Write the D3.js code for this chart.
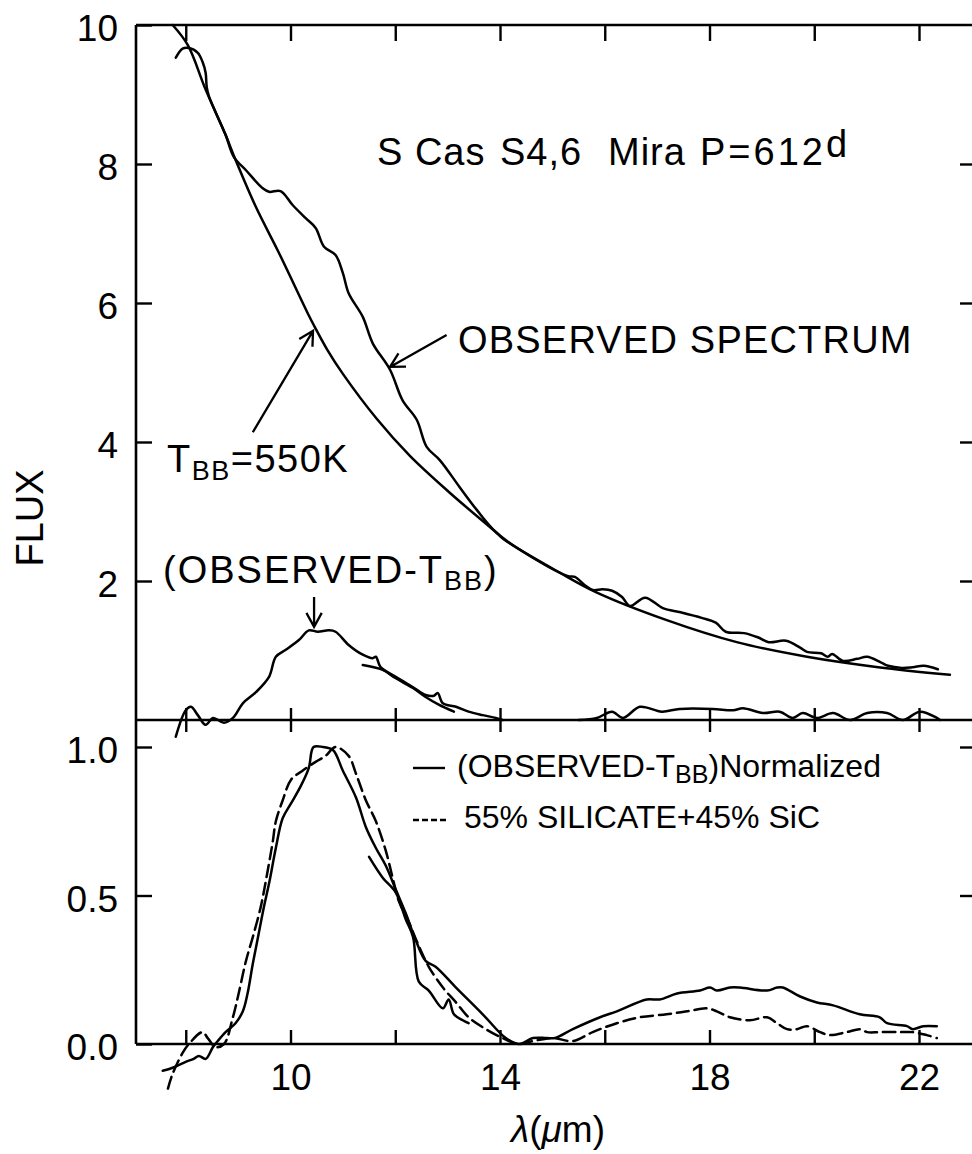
<!DOCTYPE html>
<html>
<head>
<meta charset="utf-8">
<script src="https://cdn.jsdelivr.net/npm/d3@7"></script>
<style>
  html, body { margin: 0; padding: 0; background: #fff; }
  svg { display: block; font-family: "Liberation Sans", Arial, Helvetica, sans-serif; }
  .axis text { font-size: 37px; fill: #000; }
  .axis line { stroke: #000; stroke-width: 2.4; }
  .axis .domain { display: none; }
  .curve { fill: none; stroke: #000; stroke-width: 2.5; stroke-linejoin: round; stroke-linecap: round; }
</style>
</head>
<body>
<div id="chart"></div>
<script>
// tick values
const xTicks = [8, 10, 12, 14, 16, 18, 20, 22];
const xLabels = [10, 14, 18, 22];
const fluxTicks = [2, 4, 6, 8, 10];
const normTicks = [0, 0.5, 1.0];

// upper panel, [lambda (um), flux]
const blackbody = [[7.75,10.0],[8.04,9.71],[8.38,9.07],[8.76,8.42],[8.95,8.06],[9.34,7.38],[9.78,6.72],
  [10.35,5.82],[10.46,5.66],[10.7,5.33],[11.0,4.98],[11.65,4.33],[12.28,3.80],[13.04,3.27],[13.94,2.69],[14.09,2.59],
  [15.14,2.12],[15.83,1.84],[17.17,1.44],[18.52,1.12],[19.86,0.91],[21.22,0.76],[22.59,0.65]];

const observed = [[7.81,9.53],[7.94,9.66],[8.06,9.67],[8.23,9.60],[8.32,9.47],[8.38,9.31],[8.40,9.11],[8.44,8.98],
  [8.76,8.42],[8.92,8.10],[9.15,7.91],[9.47,7.65],[9.59,7.60],[9.81,7.61],[10.04,7.41],[10.29,7.22],[10.48,7.08],
  [10.64,6.81],[10.86,6.69],[11.0,6.43],[11.11,6.14],[11.38,5.80],[11.57,5.42],[11.90,5.04],[12.14,4.60],
  [12.41,4.32],[12.60,3.93],[12.85,3.74],[13.23,3.35],[13.56,3.02],[13.94,2.69],[14.57,2.36],[15.30,2.07],
  [15.43,2.06],[15.62,1.94],[15.77,1.87],[15.96,1.88],[16.14,1.86],[16.33,1.77],[16.48,1.64],[16.77,1.76],
  [17.11,1.61],[17.45,1.55],[17.85,1.47],[18.12,1.40],[18.31,1.27],[18.66,1.25],[18.92,1.19],[19.13,1.12],
  [19.46,1.14],[19.73,1.04],[19.86,0.98],[20.13,0.96],[20.26,0.91],[20.34,0.95],[20.55,0.85],[20.82,0.88],
  [21.01,0.91],[21.27,0.83],[21.41,0.78],[21.67,0.75],[21.88,0.76],[22.09,0.78],[22.36,0.73]];

const residual = [[7.81,-0.24],[8.00,0.14],[8.10,0.19],[8.23,0.07],[8.38,-0.07],[8.52,0.03],[8.73,-0.04],
  [8.90,0.03],[9.09,0.24],[9.34,0.40],[9.59,0.62],[9.72,0.91],[9.91,1.01],[10.16,1.15],[10.35,1.29],
  [10.52,1.27],[10.73,1.29],[10.86,1.27],[11.11,1.08],[11.38,0.94],[11.57,0.89],[11.63,0.91],[11.72,0.76],
  [12.01,0.62],[12.34,0.47],[12.58,0.36],[12.74,0.35],[12.81,0.39],[12.91,0.24],[13.16,0.19],[13.40,0.12],
  [13.67,0.07],[13.92,0.03],[14.05,0.0]];

const residualOverlap = [[11.38,0.79],[11.76,0.72],[12.01,0.60],[12.34,0.46],[12.58,0.33],[12.83,0.22],[13.12,0.12]];

const residualLong = [[15.5,0.0],[15.85,0.03],[16.14,0.12],[16.35,0.03],[16.67,0.19],[17.09,0.12],[17.43,0.16],
  [18.06,0.16],[18.45,0.14],[18.64,0.17],[19.02,0.10],[19.34,0.12],[19.59,0.03],[19.78,0.10],[20.05,0.03],
  [20.36,0.10],[20.68,0.0],[21.01,0.10],[21.39,0.10],[21.69,0.0],[22.02,0.12],[22.34,0.03],[22.40,0.0]];

// lower panel, [lambda (um), normalized]
const normalized = [[7.56,-0.09],[7.75,-0.08],[8.0,-0.06],[8.15,-0.05],[8.25,-0.04],[8.38,-0.05],[8.52,-0.01],
  [8.61,0.01],[8.76,0.04],[8.95,0.07],[9.09,0.11],[9.18,0.17],[9.28,0.27],[9.38,0.36],[9.49,0.46],[9.59,0.54],
  [9.72,0.66],[9.85,0.76],[10.01,0.81],[10.20,0.87],[10.35,0.93],[10.44,1.0],[10.62,1.0],[10.81,0.99],
  [11.0,0.92],[11.25,0.83],[11.44,0.73],[11.63,0.66],[11.82,0.60],[12.01,0.52],[12.20,0.44],[12.39,0.35],
  [12.58,0.28],[12.77,0.26],[13.16,0.19],[13.67,0.10],[14.11,0.02],[14.36,0.0],[14.63,0.02],[14.89,0.02],
  [15.05,0.02],[15.39,0.05],[15.91,0.09],[16.23,0.11],[16.80,0.15],[17.05,0.15],[17.38,0.17],[17.82,0.18],
  [18.01,0.19],[18.14,0.18],[18.39,0.19],[18.58,0.19],[19.10,0.18],[19.29,0.19],[19.40,0.19],[19.73,0.16],
  [20.05,0.14],[20.36,0.13],[20.87,0.10],[21.25,0.09],[21.39,0.07],[21.77,0.06],[21.88,0.05],[22.08,0.06],
  [22.34,0.06]];

const normalizedOverlap = [[11.50,0.63],[11.76,0.56],[12.01,0.51],[12.20,0.42],[12.34,0.36],[12.45,0.21],
  [12.64,0.18],[12.91,0.12],[13.02,0.15],[13.12,0.10],[13.29,0.08],[13.40,0.07]];

const model = [[7.66,-0.15],[7.75,-0.10],[7.94,-0.03],[8.06,0.0],[8.32,0.04],[8.42,0.02],[8.57,-0.01],[8.73,0.0],
  [8.90,0.09],[9.01,0.17],[9.15,0.28],[9.28,0.36],[9.43,0.46],[9.53,0.55],[9.66,0.68],[9.72,0.75],[9.85,0.82],
  [10.01,0.89],[10.23,0.92],[10.48,0.95],[10.67,0.97],[10.86,1.0],[11.11,0.97],[11.25,0.91],[11.44,0.82],
  [11.63,0.75],[11.82,0.65],[11.95,0.56],[12.07,0.48],[12.26,0.41],[12.45,0.33],[12.64,0.26],[12.91,0.19],
  [13.16,0.14],[13.40,0.09],[13.73,0.05],[14.05,0.02],[14.36,0.0],[14.63,0.01],[15.01,0.02],[15.39,0.01],
  [15.77,0.04],[16.23,0.07],[16.67,0.09],[17.18,0.10],[17.57,0.11],[17.95,0.12],[18.14,0.11],[18.39,0.09],
  [18.77,0.08],[19.10,0.09],[19.29,0.07],[19.48,0.05],[19.67,0.05],[19.86,0.06],[20.11,0.04],[20.30,0.03],
  [20.62,0.04],[20.87,0.05],[21.01,0.04],[21.25,0.04],[21.64,0.04],[21.88,0.04],[22.15,0.03],[22.34,0.02]];

const W = 972, H = 1154;

const svg = d3.select("#chart").append("svg")
  .attr("width", W).attr("height", H)
  .attr("viewBox", `0 0 ${W} ${H}`);

const x = d3.scaleLinear().domain([7.05, 23.05]).range([136, 974]);
const yTop = d3.scaleLinear().domain([0, 10]).range([720, 25]);
const yBot = d3.scaleLinear().domain([0, 1]).range([1044, 747]);

const [x0, x1] = x.range();

// frame
const frame = [
  [x0, yTop(10), x0, yBot(0)],
  [x0, yTop(10), x1, yTop(10)],
  [x0, yTop(0), x1, yTop(0)],
  [x0, yBot(0), x1, yBot(0)],
  [x1, yTop(10), x1, yBot(0)]
];
svg.append("g").selectAll("line").data(frame).enter().append("line")
  .attr("x1", d => d[0]).attr("y1", d => d[1]).attr("x2", d => d[2]).attr("y2", d => d[3])
  .attr("stroke", "#000").attr("stroke-width", 2.6);

// left axes
svg.append("g").attr("class", "axis")
  .attr("transform", `translate(${x0},0)`)
  .call(d3.axisLeft(yTop).tickValues(fluxTicks).tickSize(-16).tickPadding(18).tickFormat(d3.format("d")))
  .selectAll("text").attr("dy", "0.42em");
svg.append("g").attr("class", "axis")
  .attr("transform", `translate(${x0},0)`)
  .call(d3.axisLeft(yBot).tickValues(normTicks).tickSize(-16).tickPadding(18).tickFormat(d3.format(".1f")))
  .selectAll("text").attr("dy", "0.42em");

// right axes (inner ticks only)
svg.append("g").attr("class", "axis")
  .attr("transform", `translate(${x1},0)`)
  .call(d3.axisLeft(yTop).tickValues(fluxTicks.slice(0, 4)).tickSize(14).tickFormat(""));
svg.append("g").attr("class", "axis")
  .attr("transform", `translate(${x1},0)`)
  .call(d3.axisLeft(yBot).tickValues([0.5, 1.0]).tickSize(14).tickFormat(""));

// top axis
svg.append("g").attr("class", "axis")
  .attr("transform", `translate(0,${yTop(10)})`)
  .call(d3.axisTop(x).tickValues(xTicks).tickSize(-16).tickFormat(""));

// middle separator, ticks crossing both ways
svg.append("g").attr("class", "axis")
  .attr("transform", `translate(0,${yTop(0)})`)
  .call(d3.axisBottom(x).tickValues(xTicks).tickSize(12).tickFormat(""));
svg.append("g").attr("class", "axis")
  .attr("transform", `translate(0,${yTop(0)})`)
  .call(d3.axisTop(x).tickValues(xTicks).tickSize(12).tickFormat(""));

// bottom axis
svg.append("g").attr("class", "axis")
  .attr("transform", `translate(0,${yBot(0)})`)
  .call(d3.axisBottom(x).tickValues(xTicks).tickSize(-14).tickPadding(20)
    .tickFormat(d => xLabels.includes(d) ? d : ""));

// curves
const lineTop = d3.line().x(d => x(d[0])).y(d => yTop(d[1])).curve(d3.curveCatmullRom.alpha(0.5));
const lineBot = d3.line().x(d => x(d[0])).y(d => yBot(d[1])).curve(d3.curveCatmullRom.alpha(0.5));

[blackbody, observed, residual, residualOverlap, residualLong].forEach(s => {
  svg.append("path").attr("class", "curve").attr("d", lineTop(s));
});
[normalized, normalizedOverlap].forEach(s => {
  svg.append("path").attr("class", "curve").attr("d", lineBot(s));
});
svg.append("path").attr("class", "curve").attr("d", lineBot(model))
  .attr("stroke-dasharray", "12,6").attr("stroke-linecap", "butt");

// arrows (annotation anchors in data units)
function arrow(tail, tip, yScale) {
  const tx = x(tip[0]), ty = yScale(tip[1]);
  const sx = x(tail[0]), sy = yScale(tail[1]);
  const a = Math.atan2(ty - sy, tx - sx), L = 16, sp = 0.5;
  const p = d3.path();
  p.moveTo(sx, sy); p.lineTo(tx, ty);
  p.moveTo(tx - L * Math.cos(a - sp), ty - L * Math.sin(a - sp));
  p.lineTo(tx, ty);
  p.lineTo(tx - L * Math.cos(a + sp), ty - L * Math.sin(a + sp));
  svg.append("path").attr("d", p.toString()).attr("fill", "none")
    .attr("stroke", "#000").attr("stroke-width", 2.3);
}
arrow([12.98, 5.54], [11.90, 5.08], yTop);
arrow([9.28, 4.14], [10.43, 5.60], yTop);
arrow([10.45, 1.77], [10.45, 1.34], yTop);

// labels
const txt = (xp, yp, size) => svg.append("text").attr("x", xp).attr("y", yp)
  .attr("font-size", size).attr("fill", "#000");

const title = txt(377, 165, 38).attr("letter-spacing", 1);
title.append("tspan").text("S Cas");
title.append("tspan").attr("x", 500).text("S4,6");
title.append("tspan").attr("x", 608).text("Mira");
title.append("tspan").attr("x", 700).attr("letter-spacing", 3).text("P=612");
title.append("tspan").attr("dy", -8).text("d");

txt(458, 353, 38).attr("letter-spacing", 1.2).text("OBSERVED SPECTRUM");

const tbb = txt(167, 472, 38).attr("letter-spacing", 1.5);
tbb.append("tspan").text("T");
tbb.append("tspan").attr("font-size", 27).attr("dy", 8).text("BB");
tbb.append("tspan").attr("dy", -8).text("=550K");

const res = txt(163, 583, 38).attr("letter-spacing", 2);
res.append("tspan").text("(OBSERVED-T");
res.append("tspan").attr("font-size", 27).attr("dy", 7).text("BB");
res.append("tspan").attr("dy", -7).text(")");

// legend
svg.append("line").attr("x1", 413).attr("x2", 445).attr("y1", 768).attr("y2", 768)
  .attr("stroke", "#000").attr("stroke-width", 2.4);
svg.append("line").attr("x1", 413).attr("x2", 446).attr("y1", 820).attr("y2", 820)
  .attr("stroke", "#000").attr("stroke-width", 2.4).attr("stroke-dasharray", "6,3");

const leg1 = txt(457, 777, 32);
leg1.append("tspan").text("(OBSERVED-T");
leg1.append("tspan").attr("font-size", 25).attr("dy", 6).text("BB");
leg1.append("tspan").attr("dy", -6).text(")Normalized");
txt(464, 828, 32).text("55% SILICATE+45% SiC");

// axis titles
svg.append("text").attr("transform", "translate(43,518) rotate(-90)")
  .attr("text-anchor", "middle").attr("font-size", 38).attr("fill", "#000").text("FLUX");

const xl = svg.append("text").attr("x", 558).attr("y", 1142).attr("text-anchor", "middle")
  .attr("font-size", 37).attr("fill", "#000");
xl.append("tspan").attr("font-style", "italic").text("λ");
xl.append("tspan").text("(");
xl.append("tspan").attr("font-style", "italic").text("μ");
xl.append("tspan").text("m)");
</script>
</body>
</html>
